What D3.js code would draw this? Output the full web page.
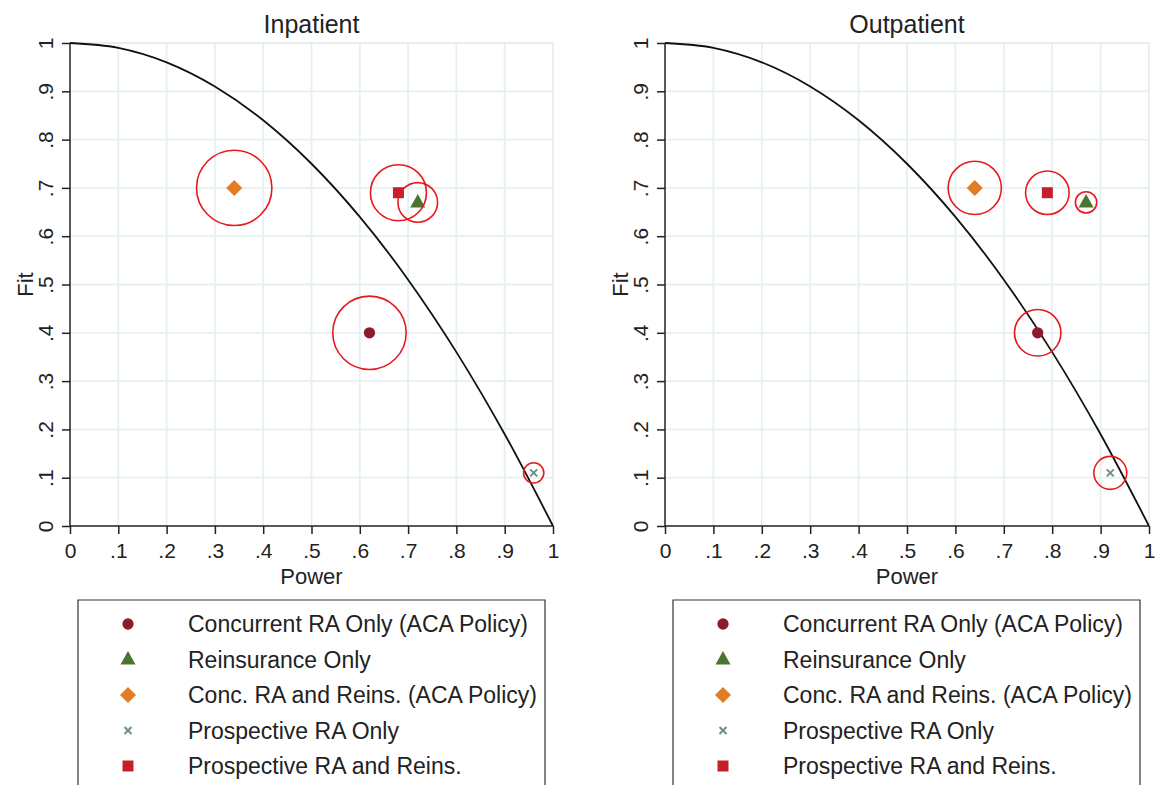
<!DOCTYPE html>
<html>
<head>
<meta charset="utf-8">
<script src="https://cdn.jsdelivr.net/npm/d3@7"></script>
<style>
  html, body { margin: 0; padding: 0; background: #fff; }
  svg { display: block; font-family: "Liberation Sans", Arial, Helvetica, sans-serif; }
</style>
</head>
<body>
<svg id="chart" width="1156" height="785"></svg>
<script>
// ---------------- Data ----------------
const seriesNames = [
  "Concurrent RA Only (ACA Policy)",
  "Reinsurance Only",
  "Conc. RA and Reins. (ACA Policy)",
  "Prospective RA Only",
  "Prospective RA and Reins."
];
const seriesColors = ["#8c1b2b", "#4a7531", "#e27d25", "#6b8f86", "#c41f2b"];
const seriesShapes = ["circle", "triangle", "diamond", "x", "square"];

const panelTitles = ["Inpatient", "Outpatient"];

const inpatientPower  = [0.62, 0.72, 0.34, 0.96, 0.68];
const inpatientFit    = [0.40, 0.67, 0.70, 0.11, 0.69];
const inpatientRing   = [0.076, 0.041, 0.078, 0.021, 0.058];

const outpatientPower = [0.77, 0.87, 0.64, 0.92, 0.79];
const outpatientFit   = [0.40, 0.67, 0.70, 0.11, 0.69];
const outpatientRing  = [0.048, 0.022, 0.055, 0.034, 0.045];

// frontier
const frontierPower = [0, 0.1, 0.2, 0.3, 0.4, 0.5, 0.6, 0.7, 0.8, 0.9, 1.0];
const frontierFit   = [1, 0.99, 0.96, 0.91, 0.84, 0.75, 0.64, 0.51, 0.36, 0.19, 0];

const tickValues = [0, 0.1, 0.2, 0.3, 0.4, 0.5, 0.6, 0.7, 0.8, 0.9, 1];
const tickLabels = ["0", ".1", ".2", ".3", ".4", ".5", ".6", ".7", ".8", ".9", "1"];

const xTitle = "Power";
const yTitle = "Fit";

// ---------------- Layout ----------------
const svg = d3.select("#chart");
const panels = [
  { title: panelTitles[0], power: inpatientPower, fit: inpatientFit, ring: inpatientRing,
    x0: 70, x1: 553, legendX: 78, legendW: 467 },
  { title: panelTitles[1], power: outpatientPower, fit: outpatientFit, ring: outpatientRing,
    x0: 665, x1: 1149, legendX: 673, legendW: 467 }
];
const yTop = 43, yBot = 526;

const gridColor = "#e6f0f1";
const axisColor = "#222";
const textColor = "#222";
const ringColor = "#e8191e";

function symbolPath(shape) {
  if (shape === "circle") return d3.symbol(d3.symbolCircle, 100)();
  if (shape === "triangle") return "M0,-8.5L7.5,5L-7.5,5Z";
  if (shape === "diamond") return "M0,-8L8,0L0,8L-8,0Z";
  if (shape === "square") return "M-5.5,-5.5H5.5V5.5H-5.5Z";
  return "M-3.5,-3.5L3.5,3.5M3.5,-3.5L-3.5,3.5";
}
function drawMarker(g, shape, color) {
  const p = g.append("path").attr("d", symbolPath(shape));
  if (shape === "x") p.attr("fill", "none").attr("stroke", color).attr("stroke-width", 2);
  else p.attr("fill", color);
}

panels.forEach(p => {
  const x = d3.scaleLinear().domain([0, 1]).range([p.x0, p.x1]);
  const y = d3.scaleLinear().domain([0, 1]).range([yBot, yTop]);
  const g = svg.append("g");

  // grid
  g.append("g").selectAll("line.v").data(tickValues.slice(1)).join("line")
    .attr("x1", d => x(d)).attr("x2", d => x(d)).attr("y1", yTop).attr("y2", yBot)
    .attr("stroke", gridColor).attr("stroke-width", 1.8);
  g.append("g").selectAll("line.h").data(tickValues.slice(1)).join("line")
    .attr("y1", d => y(d)).attr("y2", d => y(d)).attr("x1", p.x0).attr("x2", p.x1)
    .attr("stroke", gridColor).attr("stroke-width", 1.8);

  // axes
  const xAxis = d3.axisBottom(x).tickValues(tickValues).tickFormat((d, i) => tickLabels[i])
    .tickSize(8).tickPadding(9);
  const yAxis = d3.axisLeft(y).tickValues(tickValues).tickFormat((d, i) => tickLabels[i])
    .tickSize(8).tickPadding(4);

  const gx = g.append("g").attr("transform", `translate(0,${yBot})`).call(xAxis);
  gx.select(".domain").attr("stroke", axisColor).attr("stroke-width", 1.5)
    .attr("d", `M${p.x0},0H${p.x1}`);
  gx.selectAll(".tick line").attr("stroke", axisColor).attr("stroke-width", 1.5);
  gx.selectAll(".tick text").attr("fill", textColor).style("font-size", "21px")
    .style("font-family", "'Liberation Sans', Arial, sans-serif");

  const gy = g.append("g").attr("transform", `translate(${p.x0},0)`).call(yAxis);
  gy.select(".domain").attr("stroke", axisColor).attr("stroke-width", 1.5)
    .attr("d", `M0,${yBot}V${yTop}`);
  gy.selectAll(".tick line").attr("stroke", axisColor).attr("stroke-width", 1.5);
  gy.selectAll(".tick text").attr("fill", textColor).style("font-size", "21px")
    .style("font-family", "'Liberation Sans', Arial, sans-serif")
    .attr("x", null).attr("dy", null)
    .attr("text-anchor", "middle")
    .attr("transform", "translate(-24.5,0) rotate(-90)")
    .attr("dominant-baseline", "central");

  // titles
  g.append("text").attr("x", (p.x0 + p.x1) / 2).attr("y", 33).attr("text-anchor", "middle")
    .attr("fill", textColor).style("font-size", "25px").text(p.title);
  g.append("text").attr("x", (p.x0 + p.x1) / 2).attr("y", 584).attr("text-anchor", "middle")
    .attr("fill", textColor).style("font-size", "22px").text(xTitle);
  g.append("text").attr("transform", `translate(${p.x0 - 37},${(yTop + yBot) / 2}) rotate(-90)`)
    .attr("text-anchor", "middle").attr("fill", textColor).style("font-size", "22px").text(yTitle);

  // frontier
  const line = d3.line().x(d => x(d[0])).y(d => y(d[1])).curve(d3.curveMonotoneX);
  g.append("path").datum(frontierPower.map((v, i) => [v, frontierFit[i]]))
    .attr("d", line).attr("fill", "none").attr("stroke", "#111").attr("stroke-width", 1.8);

  // markers
  seriesNames.forEach((name, i) => {
    const mg = g.append("g").attr("transform", `translate(${x(p.power[i])},${y(p.fit[i])})`);
    drawMarker(mg, seriesShapes[i], seriesColors[i]);
  });
  // rings
  seriesNames.forEach((name, i) => {
    g.append("circle").attr("cx", x(p.power[i])).attr("cy", y(p.fit[i]))
      .attr("r", x(p.ring[i]) - x(0))
      .attr("fill", "none").attr("stroke", ringColor).attr("stroke-width", 1.6);
  });

  // legend
  const lg = g.append("g");
  lg.append("path")
    .attr("d", `M${p.legendX},800V${600}H${p.legendX + p.legendW}V800`)
    .attr("fill", "none").attr("stroke", "#333").attr("stroke-width", 1.2);
  const rowY = d3.scaleLinear().domain([0, seriesNames.length - 1]).range([624, 766]);
  seriesNames.forEach((name, i) => {
    const mg = lg.append("g").attr("transform", `translate(${p.legendX + 50},${rowY(i)})`);
    drawMarker(mg, seriesShapes[i], seriesColors[i]);
    lg.append("text").attr("x", p.legendX + 110).attr("y", rowY(i))
      .attr("dominant-baseline", "central").attr("fill", textColor)
      .style("font-size", "23px").text(name);
  });
});
</script>
</body>
</html>
